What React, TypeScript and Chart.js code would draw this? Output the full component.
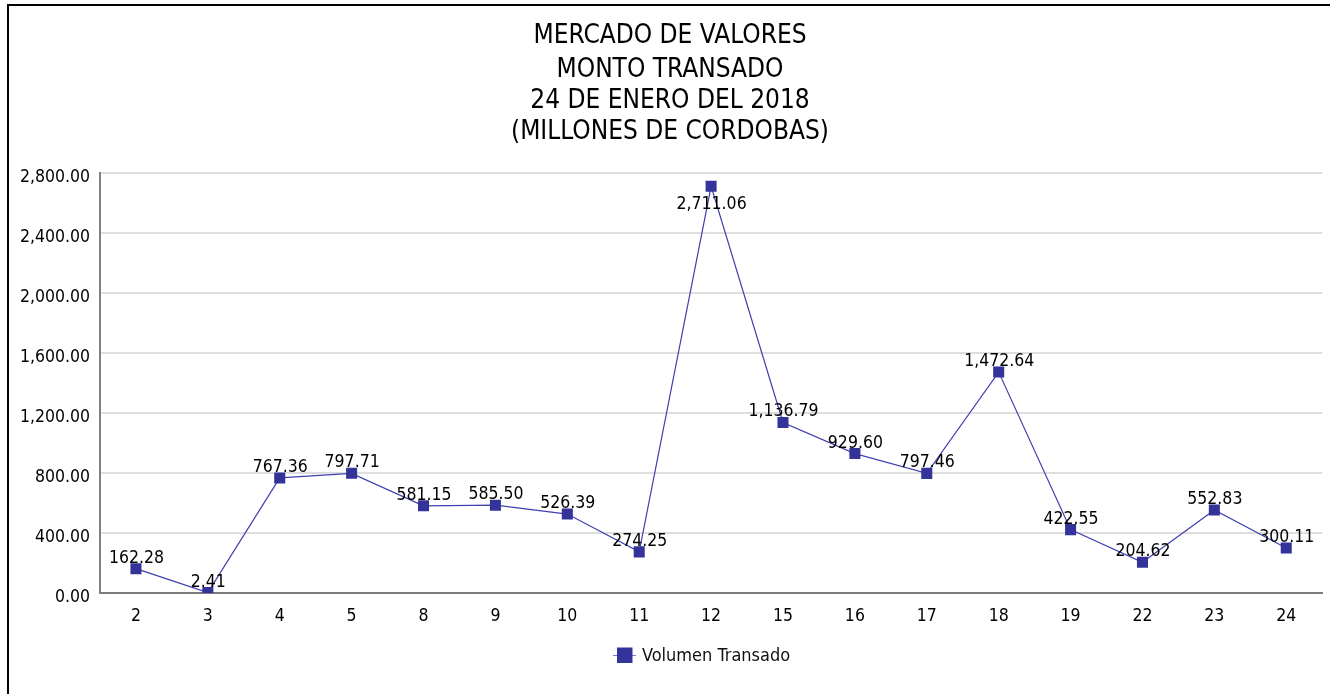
import React, { useEffect, useRef } from "react";
import { Chart, registerables } from "chart.js";

Chart.register(...registerables);

const titleLines = [
  "MERCADO DE VALORES",
  "MONTO TRANSADO",
  "24 DE ENERO DEL 2018",
  "(MILLONES DE CORDOBAS)",
];
const categories = ["2", "3", "4", "5", "8", "9", "10", "11", "12", "15", "16", "17", "18", "19", "22", "23", "24"];
const volumen = [
  162.28, 2.41, 767.36, 797.71, 581.15, 585.5, 526.39, 274.25, 2711.06, 1136.79, 929.6, 797.46, 1472.64, 422.55,
  204.62, 552.83, 300.11,
];
const seriesName = "Volumen Transado";
const yMin = 0;
const yMax = 2800;
const yStep = 400;

const FONT = "'DejaVu Sans Condensed', 'DejaVu Sans', sans-serif";
const LINE_COLOR = "#4040b0";
const MARK_COLOR = "#333399";

const fmt = (v: number) =>
  v.toLocaleString("en-US", { minimumFractionDigits: 2, maximumFractionDigits: 2 });

const decorPlugin = {
  id: "decor",
  beforeDraw(chart: any) {
    const ctx = chart.ctx;
    ctx.save();
    ctx.fillStyle = "#ffffff";
    ctx.fillRect(0, 0, chart.width, chart.height);
    ctx.fillStyle = "#000000";
    ctx.fillRect(7, 4, 2, chart.height - 4);
    ctx.fillRect(7, 4, chart.width - 7, 2);
    ctx.restore();
  },
  afterDraw(chart: any) {
    const ctx = chart.ctx;
    ctx.save();
    // title
    ctx.fillStyle = "#000000";
    ctx.font = `26px ${FONT}`;
    ctx.textAlign = "center";
    ctx.textBaseline = "alphabetic";
    const baselines = [43.3, 76.5, 108.3, 139.3];
    titleLines.forEach((t, i) => ctx.fillText(t, 670, baselines[i]));

    // legend
    const ly = 655;
    ctx.strokeStyle = "#7a7ad0";
    ctx.lineWidth = 1;
    ctx.beginPath();
    ctx.moveTo(613, ly + 0.5);
    ctx.lineTo(636, ly + 0.5);
    ctx.stroke();
    ctx.fillStyle = MARK_COLOR;
    ctx.fillRect(617, ly - 7.5, 15.5, 15.5);
    ctx.fillStyle = "#111111";
    ctx.font = `18px ${FONT}`;
    ctx.textAlign = "left";
    ctx.textBaseline = "middle";
    ctx.fillText(seriesName, 642, ly + 1);

    // data labels
    const meta = chart.getDatasetMeta(0);
    const area = chart.chartArea;
    ctx.font = `17.5px ${FONT}`;
    ctx.textAlign = "center";
    ctx.textBaseline = "alphabetic";
    ctx.fillStyle = "#000000";
    meta.data.forEach((pt: any, i: number) => {
      const v = volumen[i];
      let by = pt.y - 6;
      if (by - 14 < area.top) by = pt.y + 23;
      ctx.fillText(fmt(v), pt.x + 0.5, by);
    });
    ctx.restore();
  },
};

export default function App() {
  const ref = useRef<HTMLCanvasElement | null>(null);
  useEffect(() => {
    if (!ref.current) return;
    const chart = new Chart(ref.current, {
      type: "line",
      data: {
        labels: categories,
        datasets: [
          {
            label: seriesName,
            data: volumen,
            borderColor: LINE_COLOR,
            borderWidth: 1.2,
            backgroundColor: MARK_COLOR,
            pointBackgroundColor: MARK_COLOR,
            pointBorderWidth: 0,
            pointStyle: "rect",
            pointRadius: 7.8,
            tension: 0,
            fill: false,
          },
        ],
      },
      options: {
        responsive: false,
        animation: false,
        layout: { padding: { top: 173, right: 7, left: 0, bottom: 0 } },
        plugins: {
          legend: { display: false },
          title: { display: false },
          tooltip: { enabled: false },
        },
        scales: {
          x: {
            offset: true,
            grid: { display: false, drawTicks: false },
            border: { display: true, color: "#7a7a7a", width: 2 },
            ticks: {
              color: "#000000",
              font: { family: FONT, size: 17.5 },
              padding: 13,
              maxRotation: 0,
              autoSkip: false,
            },
            afterFit: (s: any) => {
              s.height = 101;
            },
          },
          y: {
            min: yMin,
            max: yMax,
            grid: { color: "#dedede", lineWidth: 2, drawTicks: false },
            border: { display: true, color: "#808080", width: 2 },
            ticks: {
              stepSize: yStep,
              color: "#000000",
              font: { family: FONT, size: 17.5 },
              padding: 10,
              labelOffset: 4,
              callback: (v: any) => fmt(Number(v)),
            },
            afterFit: (s: any) => {
              s.width = 100;
            },
          },
        },
      },
      plugins: [decorPlugin],
    });
    return () => chart.destroy();
  }, []);
  return (
    <div style={{ position: "fixed", left: 0, top: 0, width: 1330, height: 694, background: "#fff" }}>
      <canvas ref={ref} width={1330} height={694} style={{ display: "block" }} />
    </div>
  );
}
